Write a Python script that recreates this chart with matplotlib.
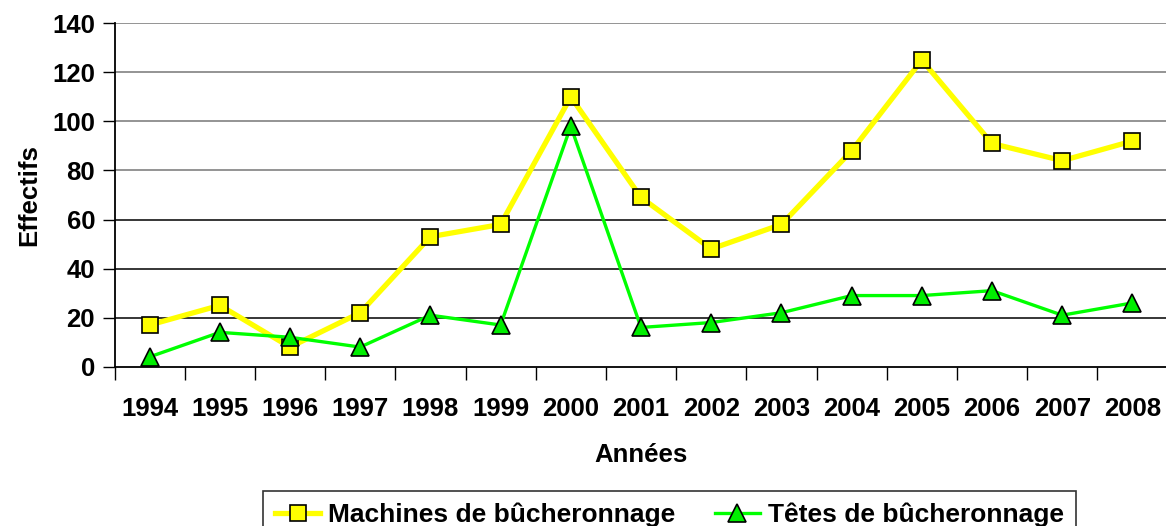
import matplotlib
matplotlib.use("Agg")
import matplotlib.pyplot as plt

years = ["1994", "1995", "1996", "1997", "1998", "1999", "2000", "2001",
         "2002", "2003", "2004", "2005", "2006", "2007", "2008"]
machines = [17, 25, 8, 22, 53, 58, 110, 69, 48, 58, 88, 125, 91, 84, 92]
tetes = [4, 14, 12, 8, 21, 17, 98, 16, 18, 22, 29, 29, 31, 21, 26]
yticks = [0, 20, 40, 60, 80, 100, 120, 140]

plt.rcParams['font.family'] = ['Liberation Sans', 'DejaVu Sans']
plt.rcParams['font.weight'] = 'bold'
FS = 18.5

fig = plt.figure(figsize=(11.66, 5.26), dpi=100)
W, H = 1166, 526
left, right, top, bottom = 114.5, 1167.5, 23.3, 366.7
ax = fig.add_axes([left / W, 1 - bottom / H, (right - left) / W, (bottom - top) / H])

x = list(range(len(years)))
ax.plot(x, machines, color='#FFFF00', lw=3.8, marker='s', ms=12,
        mfc='#FFFF00', mec='black', mew=1.2, zorder=3,
        label='Machines de bûcheronnage')
ax.plot(x, tetes, color='#00FF00', lw=2.4, marker='^', ms=13,
        mfc='#00EE00', mec='black', mew=1.2, zorder=4,
        label='Têtes de bûcheronnage')

ax.set_xlim(-0.5, len(years) - 0.5)
ax.set_ylim(0, 140)
ax.set_yticks(yticks)
ax.set_yticklabels([str(v) for v in yticks], fontsize=FS, fontweight='bold')
ax.set_xticks(x)
ax.set_xticklabels(years, fontsize=FS, fontweight='bold')
ax.set_xticks([i - 0.5 for i in range(len(years) + 1)], minor=True)
ax.tick_params(axis='x', which='major', length=0, pad=22)
ax.tick_params(axis='x', which='minor', length=9, width=1, direction='out', color='black')
ax.tick_params(axis='y', length=9, width=1, direction='out', pad=5)

for v in yticks[1:]:
    c = 'black' if v <= 60 else '#777777'
    ax.axhline(v, color=c, lw=1.1, zorder=1)

for s in ['top', 'right']:
    ax.spines[s].set_visible(False)
ax.spines['left'].set_linewidth(1.3)
ax.spines['bottom'].set_linewidth(1.3)

ax.set_ylabel('Effectifs', fontsize=FS, fontweight='bold', labelpad=8)
ax.set_xlabel('Années', fontsize=FS, fontweight='bold', labelpad=16)

leg = fig.legend(loc='upper center', bbox_to_anchor=(669.5 / W, 1 - 491 / H),
                 ncol=2, fontsize=19, frameon=True, fancybox=False,
                 edgecolor='black', handlelength=1.7, columnspacing=1.5,
                 borderpad=0.45, handletextpad=0.3, borderaxespad=0)
leg.get_frame().set_linewidth(1.2)
for t in leg.get_texts():
    t.set_fontweight('bold')

fig.savefig('out.png', dpi=100)
